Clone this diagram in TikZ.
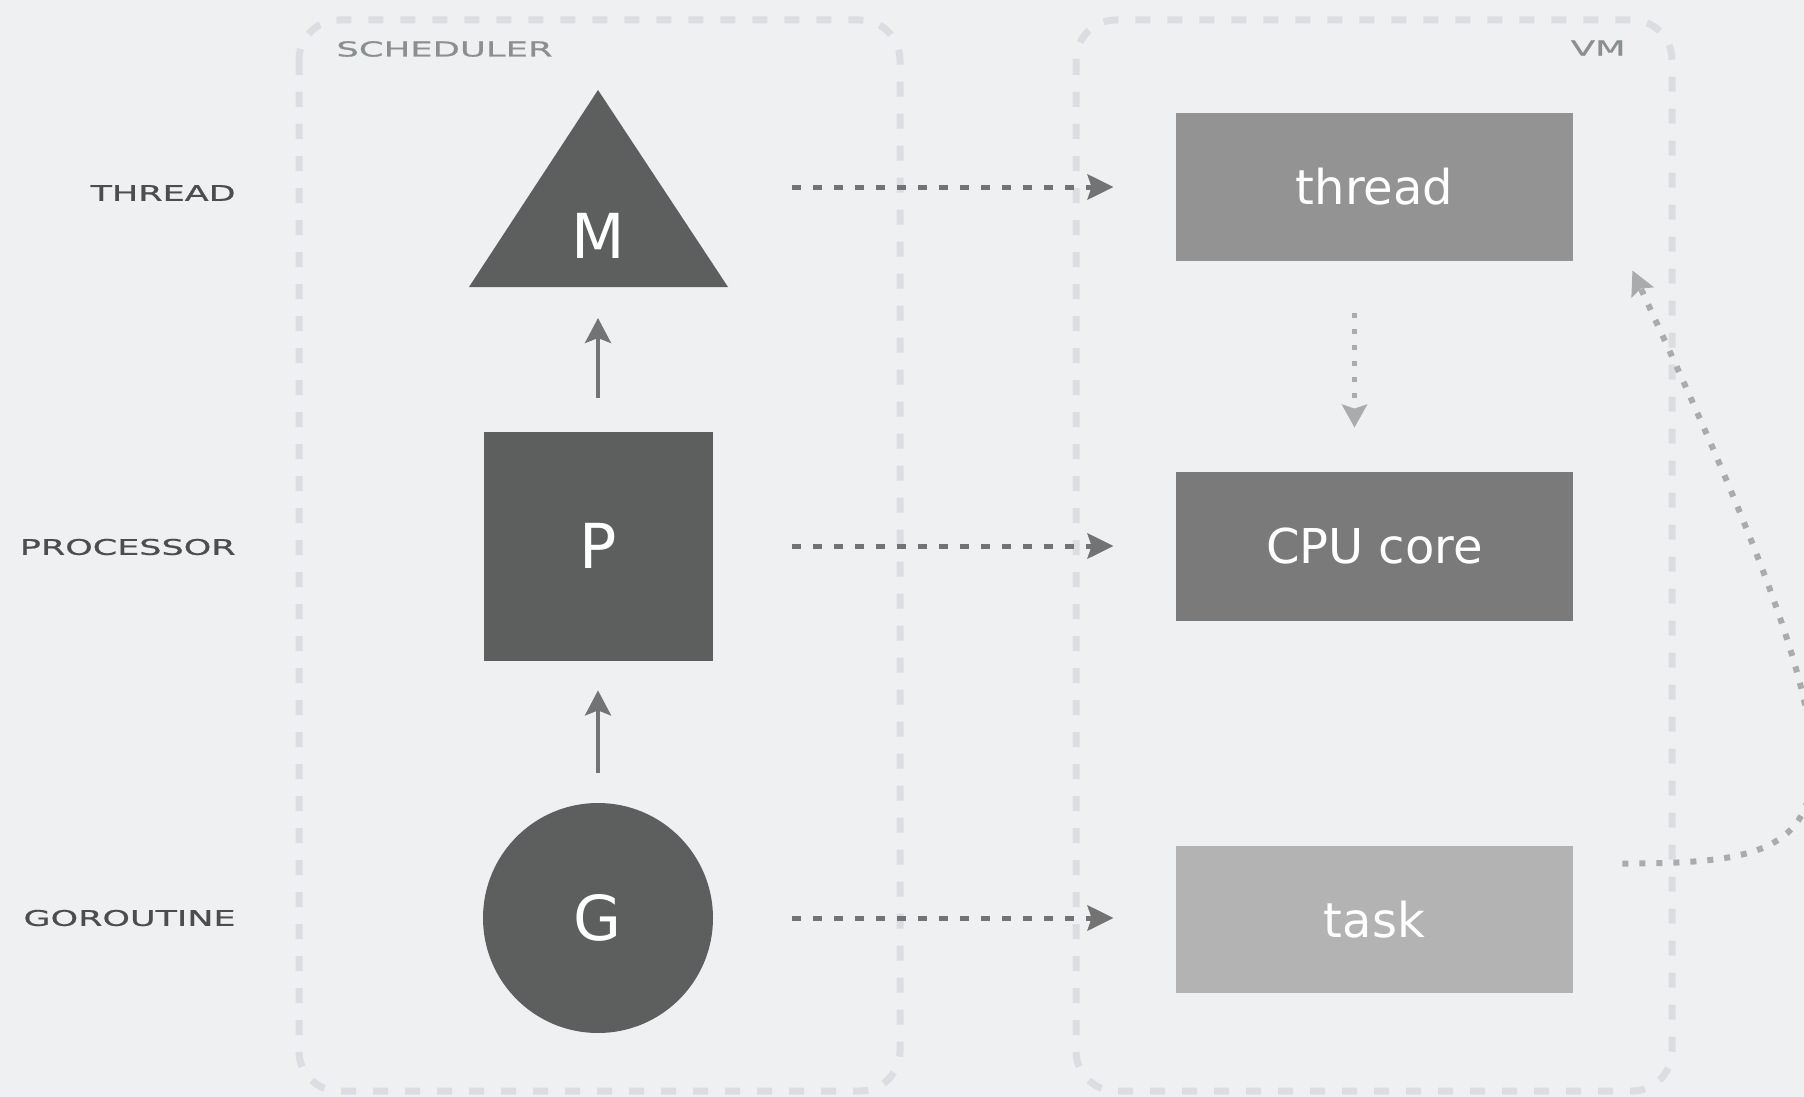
\documentclass[tikz,border=0pt]{standalone}
\usepackage{fontspec}
\setmainfont{DejaVu Sans}
\newfontfamily\capsfont{DejaVu Sans}[FakeStretch=1.62, FakeBold=0.8]
\newfontfamily\titlefont{DejaVu Sans}[FakeStretch=1.72, FakeBold=0.8]
\usetikzlibrary{arrows.meta}
\definecolor{bgcol}{HTML}{EFF0F2}
\definecolor{framecol}{HTML}{DCDDE0}
\definecolor{shapecol}{HTML}{5C5F5E}
\definecolor{labelcol}{HTML}{4D4D4D}
\definecolor{titlecol}{HTML}{8A8F8F}
\definecolor{mapcol}{HTML}{737373}
\definecolor{threadcol}{HTML}{939393}
\definecolor{corecol}{HTML}{7A7A7A}
\definecolor{taskcol}{HTML}{B3B3B3}
\definecolor{dotcol}{HTML}{ABABAB}

\begin{document}
\begin{tikzpicture}[x=0.5pt, y=-0.5pt,
    frame/.style={draw=framecol, line width=3.5pt, dash pattern=on 7.5pt off 8.5pt, rounded corners=20pt},
    layer/.style={font=\capsfont\fontsize{10.8}{12}\selectfont, text=labelcol, anchor=east, inner sep=0pt},
    title/.style={font=\titlefont\fontsize{10.3}{12}\selectfont, text=titlecol, inner sep=0pt},
    entity/.style={fill=shapecol, text=white, font=\fontsize{31}{36}\selectfont, inner sep=0pt},
    vmbox/.style={minimum width=198.5pt, minimum height=74pt, text=white, font=\fontsize{24}{28}\selectfont, inner sep=0pt},
    uparrow/.style={draw=mapcol, line width=2pt, -{Stealth[length=12.5pt,width=13pt,inset=2.5pt]}},
    maparrow/.style={draw=mapcol, line width=2.5pt, dash pattern=on 4.5pt off 6pt, -{Stealth[length=13pt,width=12.5pt,inset=2pt]}},
    coremap/.style={draw=dotcol, line width=2.5pt, dash pattern=on 2.5pt off 5.5pt, -{Stealth[length=11.5pt,width=12.5pt,inset=2pt]}},
    backarrow/.style={draw=dotcol, line width=3pt, dash pattern=on 3pt off 5.5pt, -{Stealth[length=12pt,width=12pt,inset=2pt]}}]
        \fill[bgcol] (0,0) rectangle (1804,1097);
        \useasboundingbox (0,0) rectangle (1804,1097);
        \draw[frame] (299,20) rectangle (900,1091);
        \draw[frame] (1076,20) rectangle (1672,1091);
        \node[title, anchor=west] (sched) at (336,49) {SCHEDULER};
        \node[title, anchor=east] (vm) at (1626,48) {VM};
        \node[layer] (lthread) at (236,193) {THREAD};
        \node[layer] (lproc) at (236,547) {PROCESSOR};
        \node[layer] (lgor) at (236,918) {GOROUTINE};
        \fill[shapecol] (598,90) -- (728,287) -- (469,287) -- cycle;
        \coordinate (Mbase) at (598,287);
        \node[entity, fill=none] (M) at (598,236) {M};
        \node[entity, minimum size=114.5pt] (P) at (598,546) {P};
        \node[entity, circle, minimum size=115pt] (G) at (598,918) {G};
        \node[vmbox, fill=threadcol] (thread) at (1374.5,187) {thread};
        \node[vmbox, fill=corecol, minimum height=74.5pt] (core) at (1374.5,546.5) {CPU core};
        \node[vmbox, fill=taskcol, minimum height=73.5pt] (task) at (1374.5,919.5) {task};
        \draw[uparrow, shorten <=16.75pt, shorten >=15.5pt] (P.north) -- (Mbase);
        \draw[uparrow, shorten <=15pt, shorten >=14.75pt] (G.north) -- (P.south);
        \draw[maparrow, shorten <=97pt, shorten >=31pt] (thread.west -| M) -- (thread.west);
        \draw[maparrow, shorten <=39.5pt, shorten >=31pt] (P.east) -- (P.east -| core.west);
        \draw[maparrow, shorten <=39.5pt, shorten >=31pt] (G.east) -- (G.east -| task.west);
        \draw[coremap, shorten <=26pt, shorten >=22pt] ([xshift=-10pt]thread.south) -- ([xshift=-10pt]core.north);
        \draw[backarrow] ([xshift=24.5pt,yshift=28pt]task.east) .. controls +(228,0) and +(261,562) .. ([xshift=29.5pt,yshift=-4.5pt]thread.south east);
    \end{tikzpicture}
\end{document}
